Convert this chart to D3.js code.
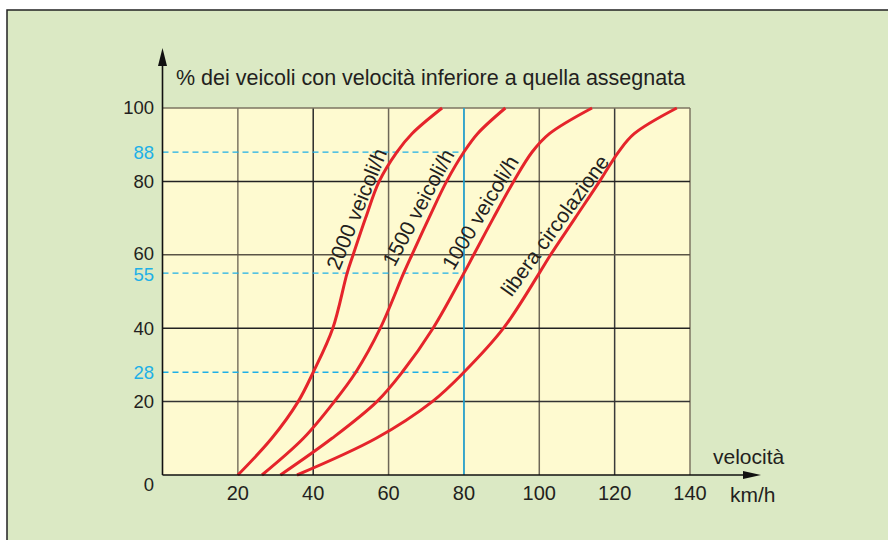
<!DOCTYPE html>
<html>
<head>
<meta charset="utf-8">
<script src="https://cdn.jsdelivr.net/npm/d3@7/dist/d3.min.js"></script>
<style>
  html, body { margin: 0; padding: 0; background: #ffffff; }
  svg { display: block; }
  text { font-family: "Liberation Sans", Arial, Helvetica, sans-serif; }
</style>
</head>
<body>
<svg id="chart" width="888" height="540"></svg>
<script>
// ---- data ----
const xTicks = [20, 40, 60, 80, 100, 120, 140];
const yTicks = [20, 40, 60, 80, 100];
const yTickLabels = ["20", "40", "60", "80", "100"];
const highlightPct = [88, 55, 28];
const highlightSpeed = 80;

// percent levels at which each curve's speed was read
const pctLevels = [0, 10, 20, 28, 40, 55, 60, 70, 80, 88, 93, 100];
const speeds2000 = [20, 29.0, 36.0, 40, 45.2, 49.0, 50.6, 53.9, 57.5, 62.2, 66.2, 74.2];
const speeds1500 = [26.4, 37.4, 45.6, 51.3, 57.8, 64.0, 66.2, 70.7, 75.4, 80, 83.6, 91];
const speeds1000 = [31.3, 45.0, 56.9, 63.6, 71.8, 80, 82.6, 87.8, 93.2, 98.1, 102.7, 114];
const speedsFree = [35.7, 56.7, 71.6, 80, 90.5, 100, 103.0, 109.5, 116.0, 121, 125.2, 136.5];

const seriesNames = ["2000 veicoli/h", "1500 veicoli/h", "1000 veicoli/h", "libera circolazione"];
const seriesSpeeds = [speeds2000, speeds1500, speeds1000, speedsFree];

const yTitle = "% dei veicoli con velocità inferiore a quella assegnata";
const xTitle = "velocità";
const xUnit = "km/h";

// ---- layout ----
const svg = d3.select("#chart");
const x = d3.scaleLinear().domain([0, 140]).range([162.5, 690]);
const y = d3.scaleLinear().domain([0, 100]).range([475, 108]);

const GREEN = "#dbe9c4", YELLOW = "#fefad0", RED = "#e5242b", BLUE = "#1eb0e6", INK = "#231f20";

// outer panel
svg.append("rect").attr("x", 7).attr("y", 10).attr("width", 900).attr("height", 560)
  .attr("fill", GREEN).attr("stroke", "#222").attr("stroke-width", 1.5);

// plot background
svg.append("rect").attr("x", x(0)).attr("y", y(100))
  .attr("width", x(140) - x(0)).attr("height", y(0) - y(100)).attr("fill", YELLOW);

// grid
const vColors = {20: "#7d7562", 40: "#2a2a2a", 60: "#6e6757", 80: "#6e6757", 100: "#6e6757", 120: "#3a3a3a", 140: "#7d7562"};
svg.append("g").selectAll("line").data(xTicks).join("line")
  .attr("x1", d => x(d)).attr("x2", d => x(d))
  .attr("y1", y(0)).attr("y2", y(100))
  .attr("stroke", d => vColors[d]).attr("stroke-width", 1.5);
const hColors = {20: "#333", 40: "#222", 60: "#5a5446", 80: "#222", 100: "#7d7562"};
svg.append("g").selectAll("line").data(yTicks).join("line")
  .attr("x1", x(0)).attr("x2", x(140))
  .attr("y1", d => y(d)).attr("y2", d => y(d))
  .attr("stroke", d => hColors[d]).attr("stroke-width", 1.5);

// highlight lines
svg.append("g").selectAll("line").data(highlightPct).join("line")
  .attr("x1", x(0)).attr("x2", x(highlightSpeed))
  .attr("y1", d => y(d)).attr("y2", d => y(d))
  .attr("stroke", BLUE).attr("stroke-width", 1.3).attr("stroke-dasharray", "6,4");
svg.append("line")
  .attr("x1", x(highlightSpeed)).attr("x2", x(highlightSpeed))
  .attr("y1", y(0)).attr("y2", y(100))
  .attr("stroke", BLUE).attr("stroke-width", 1.5);

// curves
const line = d3.line().x(d => x(d[0])).y(d => y(d[1])).curve(d3.curveCatmullRom.alpha(0.5));
svg.append("g").selectAll("path").data(seriesSpeeds).join("path")
  .attr("d", s => line(s.map((v, i) => [v, pctLevels[i]])))
  .attr("fill", "none").attr("stroke", RED).attr("stroke-width", 3)
  .attr("stroke-linecap", "butt");

// curve labels (anchor in data coordinates, angle)
const labelAnchors = [[46.9, 55.5, -68], [61.6, 56.5, -62], [77.2, 55.5, -59], [92.6, 48.3, -54]];
svg.append("g").selectAll("text").data(seriesNames).join("text")
  .attr("transform", (d, i) => `translate(${x(labelAnchors[i][0])},${y(labelAnchors[i][1])}) rotate(${labelAnchors[i][2]})`)
  .attr("font-size", 21).attr("fill", INK).text(d => d);

// axes
svg.append("line").attr("x1", x(0)).attr("x2", 748).attr("y1", y(0)).attr("y2", y(0))
  .attr("stroke", "#111").attr("stroke-width", 1.6);
svg.append("path").attr("d", `M761,${y(0)} L743,${y(0) - 4} L743,${y(0) + 4} Z`).attr("fill", "#111");
svg.append("line").attr("x1", x(0)).attr("x2", x(0)).attr("y1", y(0)).attr("y2", 60)
  .attr("stroke", "#111").attr("stroke-width", 1.6);
svg.append("path").attr("d", `M${x(0)},48 L${x(0) - 4.5},66 L${x(0) + 4.5},66 Z`).attr("fill", "#111");

// tick labels
svg.append("g").selectAll("text").data(xTicks).join("text")
  .attr("x", d => x(d)).attr("y", 500).attr("text-anchor", "middle")
  .attr("font-size", 20).attr("fill", INK).text(d => d);
svg.append("g").selectAll("text").data(yTicks).join("text")
  .attr("x", 154).attr("y", d => y(d) + (d === 60 ? -1.5 : 0)).attr("dy", "0.35em").attr("text-anchor", "end")
  .attr("font-size", 18.5).attr("fill", INK).text((d, i) => yTickLabels[i]);
svg.append("text").attr("x", 154).attr("y", 491).attr("text-anchor", "end")
  .attr("font-size", 18.5).attr("fill", INK).text("0");
svg.append("g").selectAll("text").data(highlightPct).join("text")
  .attr("x", 154).attr("y", d => y(d) + (d === 55 ? 1.5 : 0)).attr("dy", "0.35em").attr("text-anchor", "end")
  .attr("font-size", 18.5).attr("fill", BLUE).text(d => d);

// titles
svg.append("text").attr("x", 176).attr("y", 85).attr("font-size", 21.5).attr("fill", INK).text(yTitle);
svg.append("text").attr("x", 713).attr("y", 464).attr("font-size", 21).attr("fill", INK).text(xTitle);
svg.append("text").attr("x", 730).attr("y", 502).attr("font-size", 21).attr("fill", INK).text(xUnit);
</script>
</body>
</html>
